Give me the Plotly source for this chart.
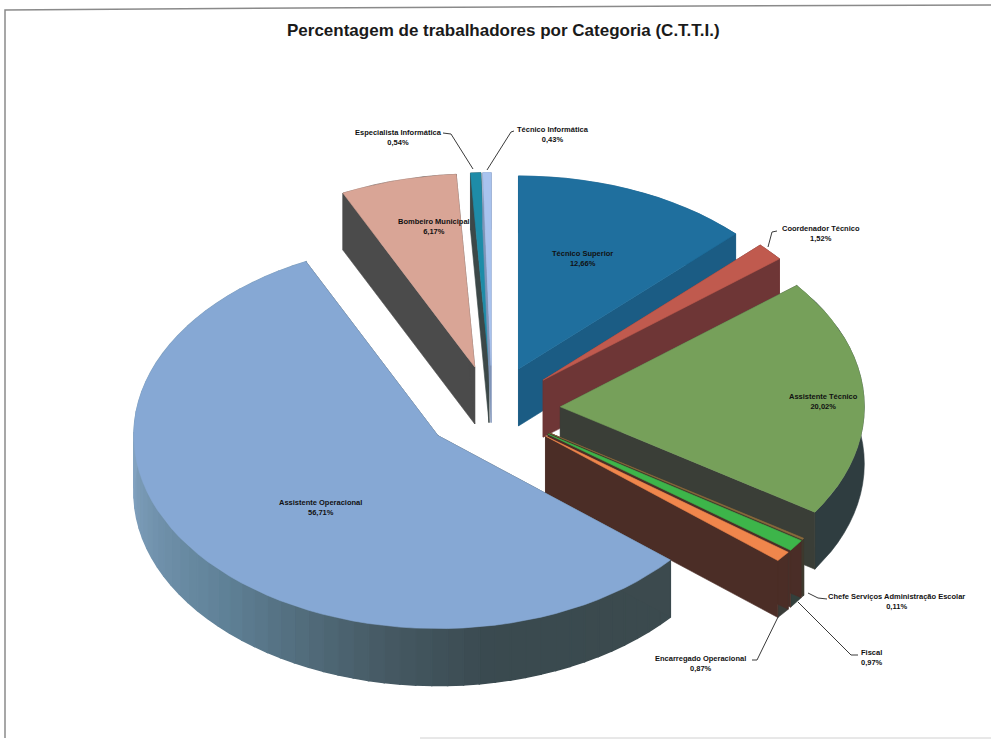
import numpy as np
import plotly.graph_objects as go

# ---- data (clockwise from 12 o'clock) ----
categories = ["Técnico Superior", "Coordenador Técnico", "Assistente Técnico",
              "Chefe Serviços Administração Escolar", "Fiscal", "Encarregado Operacional",
              "Assistente Operacional", "Bombeiro Municipal", "Especialista Informática",
              "Técnico Informática"]
values = [12.66, 1.52, 20.02, 0.11, 0.97, 0.87, 56.71, 6.17, 0.54, 0.43]

# ---- styles ----
top_colors = ["#1f6f9e", "#c05a4e", "#76a05a", "#8a6a3c", "#3db54a", "#f0864c",
              "#86a8d4", "#d9a596", "#1e8ca8", "#a9c3ee"]
face_colors = ["#1b5c84", "#6e3636", "#3a3e37", "#3f3a2e", "#4a2d27", "#4b2d26",
               "#3c4a4e", "#4b4b4b", "#3c4848", "#7f95b8"]
wall_colors = ["#1b5c84", "#6e3636", "#2f3d40", "#33403c", "#33403c", "#3a3c38",
               "#3c4a4e", "#4b4b4b", "#3c4848", "#7f95b8"]
draw_order = [7, 8, 9, 0, 1, 2, 3, 4, 5, 6]
wall_stop_angles = [130, 170, 190, 225, 270, 340]
wall_stop_rgb = [(60, 74, 78), (58, 74, 80), (70, 90, 100), (96, 130, 152), (130, 162, 192), (130, 162, 192)]

# ---- projection of the pie ----
CX, CY, RX, RY, DEPTH, EXPLODE = 492, 409, 304, 193, 57, 0.225
FRAME = "#8a8a8a"

label_x = [582, 821, 823, 896, 872, 700, 320, 434, 398, 553]
label_y = [258, 233, 401, 601, 657, 663, 507, 226, 137, 134]
leaders = [
    [(777, 231), (772, 232), (768, 247)],
    [(827, 599), (818, 598), (808, 593)],
    [(858, 655), (851, 655), (798, 602)],
    [(752, 660), (757, 660), (780, 613)],
    [(443, 133), (451, 134), (473, 169)],
    [(514, 131), (511, 132), (487, 170)],
]

fig = go.Figure()


def poly(xs, ys, color, name, lw=0.6):
    fig.add_trace(go.Scatter(x=xs, y=ys, mode="lines", fill="toself", fillcolor=color,
                             line=dict(color=color, width=lw), hoverinfo="skip",
                             showlegend=False, name=name))


def pt(theta, ox, oy, r=1.0):
    return ox + RX * r * np.sin(theta), oy - RY * r * np.cos(theta)


total = sum(values)
edges = np.cumsum([0] + values) / total * 2 * np.pi

for i in draw_order:
    a0, a1 = edges[i], edges[i + 1]
    mid = (a0 + a1) / 2
    ox, oy = pt(mid, CX, CY, EXPLODE)
    n = max(4, int((a1 - a0) / np.radians(3)))
    th = np.linspace(a0, a1, n + 1)
    xs, ys = pt(th, ox, oy)

    # outer wall
    if categories[i] == "Assistente Operacional":
        for k in range(n):
            d = np.degrees((th[k] + th[k + 1]) / 2)
            rgb = [np.interp(d, wall_stop_angles, [c[j] for c in wall_stop_rgb]) for j in range(3)]
            col = "rgb(%d,%d,%d)" % tuple(rgb)
            poly([xs[k], xs[k + 1], xs[k + 1], xs[k], xs[k]],
                 [ys[k], ys[k + 1], ys[k + 1] + DEPTH, ys[k] + DEPTH, ys[k]], col, categories[i], lw=1.5)
    else:
        poly(list(xs) + list(xs[::-1]) + [xs[0]],
             list(ys) + list(ys[::-1] + DEPTH) + [ys[0]], wall_colors[i], categories[i])

    # cut faces
    for e in ([0, -1] if np.cos(mid) > -0.5 or np.sin(mid) > 0 else [-1, 0]):
        poly([ox, xs[e], xs[e], ox, ox], [oy, ys[e], ys[e] + DEPTH, oy + DEPTH, oy],
             face_colors[i], categories[i])

    # top surface
    poly([ox] + list(xs) + [ox], [oy] + list(ys) + [oy], top_colors[i], categories[i])

# leader lines
shapes = []
for seg in leaders:
    path = "M " + " L ".join(f"{x},{y}" for x, y in seg)
    shapes.append(dict(type="path", path=path, xref="x", yref="y",
                       line=dict(color="#3a3a3a", width=1)))
# scanned frame
shapes.append(dict(type="path", path="M 5,738 L 5,10 L 300,8 L 700,6 L 991,5", xref="x", yref="y",
                   line=dict(color=FRAME, width=1.5)))
shapes.append(dict(type="line", x0=420, y0=738, x1=991, y1=738, xref="x", yref="y",
                   line=dict(color="#d0d0d0", width=1)))

annotations = [
    dict(x=x, y=y, xref="x", yref="y", showarrow=False, xanchor="center", yanchor="middle",
         text=f"<b>{c}</b><br><b>{str(format(v, '.2f')).replace('.', ',')}%</b>",
         font=dict(family="Liberation Sans", size=7.5, color="#111111"))
    for c, v, x, y in zip(categories, values, label_x, label_y)
]
annotations.append(dict(x=503, y=30, xref="x", yref="y", showarrow=False, xanchor="center",
                        yanchor="middle", text="<b>Percentagem de trabalhadores por Categoria (C.T.T.I.)</b>",
                        font=dict(family="Liberation Sans", size=17, color="#1a1a1a")))

fig.update_layout(
    width=991, height=739, autosize=False,
    margin=dict(l=0, r=0, t=0, b=0),
    paper_bgcolor="white", plot_bgcolor="white",
    xaxis=dict(range=[0, 991], visible=False, fixedrange=True),
    yaxis=dict(range=[739, 0], visible=False, fixedrange=True),
    shapes=shapes, annotations=annotations, showlegend=False,
)
fig.write_html("out.html", config={"displayModeBar": False},
               post_script="document.body.style.margin='0';document.body.style.overflow='hidden';")
